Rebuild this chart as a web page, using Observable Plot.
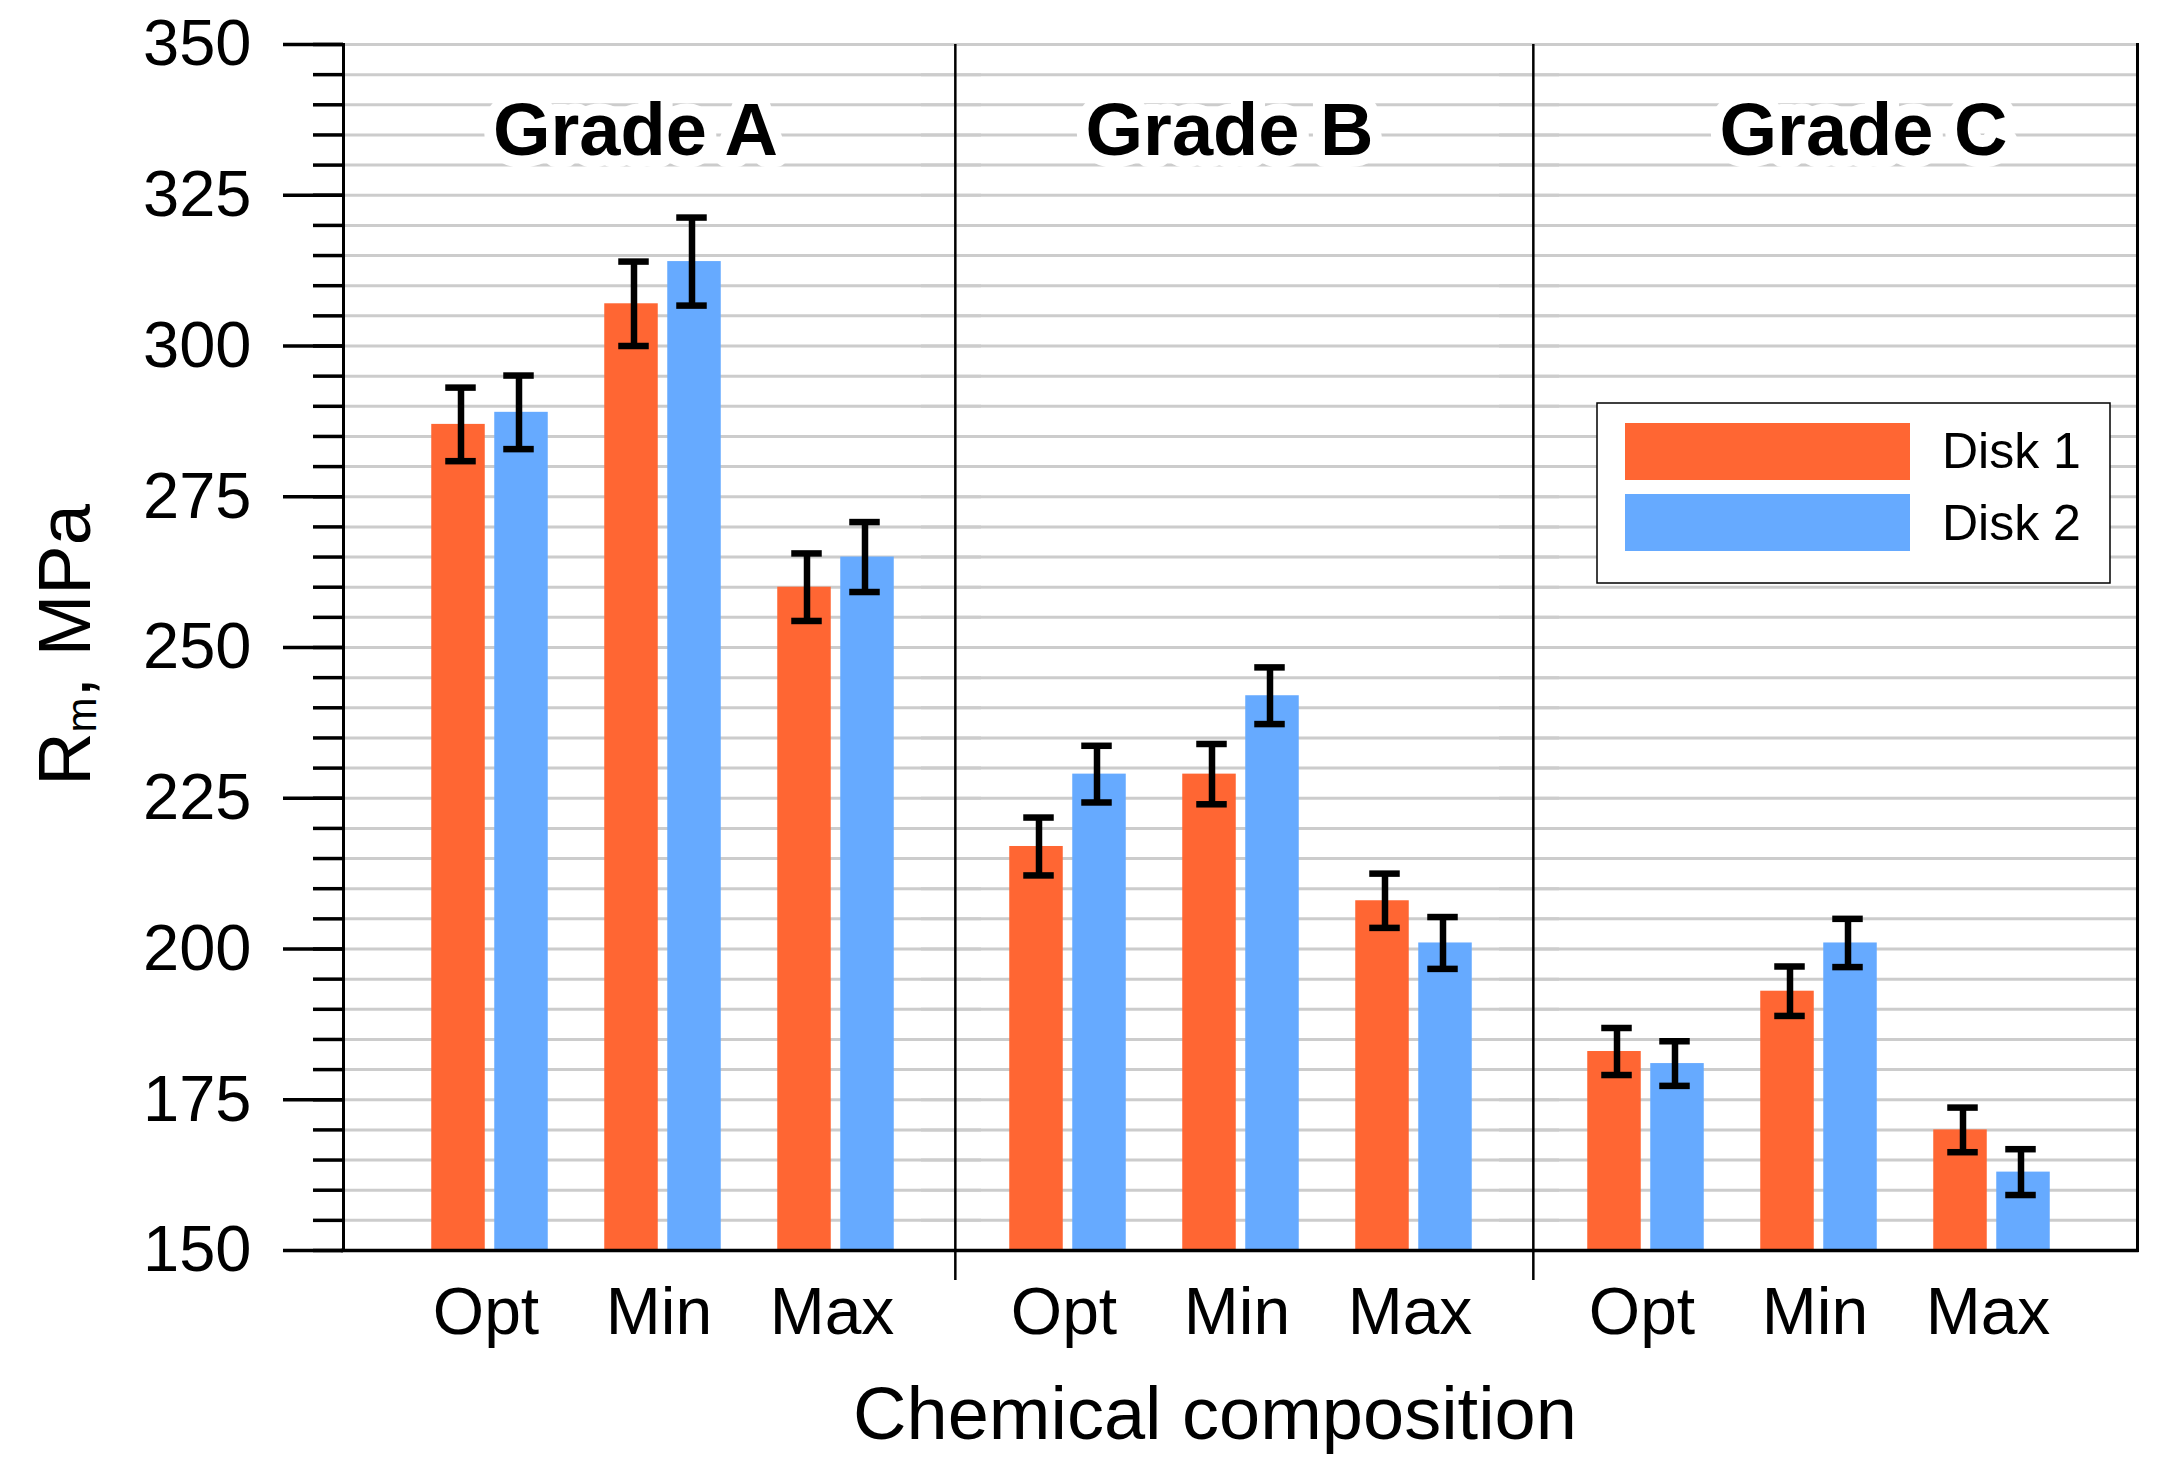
<!DOCTYPE html>
<html><head><meta charset="utf-8">
<script src="https://cdn.jsdelivr.net/npm/d3@7"></script>
<script src="https://cdn.jsdelivr.net/npm/@observablehq/plot@0.6"></script>
<style>html,body{margin:0;padding:0;background:#fff;} svg{display:block;}</style>
</head><body><div id="chart"></div>
<script>
// ---- data ----
const grades = ["Grade A", "Grade B", "Grade C"];
const compositions = ["Opt", "Min", "Max"];
const disks = ["Disk 1", "Disk 2"];
// values in grade order A(Opt,Min,Max), B(...), C(...)
const disk1Rm  = [287, 307, 260, 217, 229, 208, 183, 193, 170];
const disk2Rm  = [289, 314, 265, 229, 242, 201, 181, 201, 163];
const disk1Err = [6.1, 7.0, 5.6, 4.8, 5.0, 4.5, 3.9, 4.1, 3.7];
const disk2Err = [6.1, 7.3, 5.8, 4.7, 4.7, 4.3, 3.7, 4.0, 3.8];
const yMajorTicks = [150, 175, 200, 225, 250, 275, 300, 325, 350];
const yDomain = [150, 350];
const yMinorStep = 5;
const yLabel = ["R", "m", ", MPa"];
const xLabel = "Chemical composition";

// ---- layout / style ----
const W = 2161, H = 1460;
const mL = 342, mR = 24, mT = 44, mB = 210;
const endPad = 30;
const plotW = W - mL - mR;
const groupW = (plotW - 2 * endPad) / 3;
const fxPadOuter = endPad / groupW;
const slot = groupW / (3 + 1 / 3);
const half = slot / 2;
const groupGap = slot / 3;
const barW = 54, barGap = 9;
const errShift = 29, capHalf = 15.5;
const colors = {"Disk 1": "#FF6633", "Disk 2": "#66AAFF"};
const gradeLabelShift = {"Grade A": -27.5, "Grade B": -11.5, "Grade C": 44.5};

const rows = [];
grades.forEach((g, gi) => compositions.forEach((c, ci) => {
  const k = gi * 3 + ci;
  rows.push({grade: g, comp: c, disk: "Disk 1", value: disk1Rm[k], err: disk1Err[k]});
  rows.push({grade: g, comp: c, disk: "Disk 2", value: disk2Rm[k], err: disk2Err[k]});
}));

const minorTicks = d3.range(yDomain[0], yDomain[1] + 1, yMinorStep);

const diskMarks = disks.flatMap((dk, i) => {
  const s = i === 0 ? -1 : 1;
  const data = rows.filter(r => r.disk === dk);
  const barFar = half - barGap / 2 - barW;
  const bl = s < 0 ? barFar : half + barGap / 2;
  const br = s < 0 ? half + barGap / 2 : barFar;
  const cl = s < 0 ? half - errShift - capHalf : half + errShift - capHalf;
  const cr = s < 0 ? half + errShift - capHalf : half - errShift - capHalf;
  return [
    Plot.barY(data, {fx: "grade", x: "comp", y1: yDomain[0], y2: "value", fill: colors[dk], insetLeft: bl, insetRight: br}),
    Plot.ruleX(data, {fx: "grade", x: "comp", y1: d => d.value - d.err, y2: d => d.value + d.err, dx: s * errShift, stroke: "black", strokeWidth: 6.5}),
    Plot.tickY(data, {fx: "grade", x: "comp", y: d => d.value + d.err, insetLeft: cl, insetRight: cr, stroke: "black", strokeWidth: 6.5}),
    Plot.tickY(data, {fx: "grade", x: "comp", y: d => d.value - d.err, insetLeft: cl, insetRight: cr, stroke: "black", strokeWidth: 6.5})
  ];
});

const chart = Plot.plot({
  width: W, height: H,
  marginLeft: mL, marginRight: mR, marginTop: mT, marginBottom: mB,
  fx: {domain: grades, paddingInner: 0, paddingOuter: fxPadOuter, axis: null, label: null},
  x: {domain: compositions, paddingInner: 0, paddingOuter: 1 / 6, label: null},
  y: {domain: yDomain, label: null},
  style: {fontFamily: "'Liberation Sans', Arial, sans-serif", background: "white", overflow: "visible", color: "black"},
  marks: [
    Plot.gridY(minorTicks.filter(t => t > yDomain[0]), {stroke: "#cccccc", strokeOpacity: 1, strokeWidth: 3, insetLeft: -endPad, insetRight: -endPad}),
    ...grades.map(g => Plot.text([g], {fx: d => d, x: () => compositions[1], text: d => d, frameAnchor: "top", lineAnchor: "middle", dy: 87, dx: gradeLabelShift[g], fontSize: 74, fontWeight: "bold", fill: "black", stroke: "white", strokeWidth: 24, strokeLinejoin: "round"})),
    ...diskMarks,
    Plot.ruleX(grades.slice(1), {fx: d => d, x: () => compositions[0], dx: -(half + groupGap / 2) + 3, insetBottom: -30, stroke: "black", strokeWidth: 2.5}),
    // one continuous baseline, drawn in the last facet so it sits on top of everything
    Plot.ruleY([yDomain[0]], {facetAnchor: "right", insetLeft: -(2 * groupW + endPad + 1.5), insetRight: -endPad - 1.5, stroke: "black", strokeWidth: 3.5}),
    Plot.frame({anchor: "left", facetAnchor: "left", dx: -endPad, stroke: "black", strokeWidth: 3}),
    Plot.frame({anchor: "right", facetAnchor: "right", dx: endPad, stroke: "black", strokeWidth: 3}),
    Plot.axisY(yMajorTicks, {anchor: "left", facetAnchor: "left", tickSize: 60, tickPadding: 32, fontSize: 65, strokeWidth: 3.5, dx: -endPad, label: null}),
    Plot.axisY(minorTicks, {anchor: "left", facetAnchor: "left", tickSize: 30, tickFormat: () => "", strokeWidth: 3.5, dx: -endPad, label: null}),
    Plot.axisX({anchor: "bottom", tickSize: 0, tickPadding: 37, fontSize: 66, dx: -4, label: null})
  ]
});

document.getElementById("chart").appendChild(chart);
const svg = d3.select(chart);

// y label with subscript
const yl = svg.append("text")
  .attr("transform", "translate(90,645) rotate(-90)")
  .attr("text-anchor", "middle")
  .attr("font-size", 74)
  .attr("fill", "black");
yl.append("tspan").text(yLabel[0]);
yl.append("tspan").attr("font-size", 42).attr("dy", 6).text(yLabel[1]);
yl.append("tspan").attr("dy", -6).text(yLabel[2]);

// x label
svg.append("text").attr("x", 1215).attr("y", 1439).attr("text-anchor", "middle")
  .attr("font-size", 74).attr("fill", "black").text(xLabel);

// legend inside plot
const lg = svg.append("g").attr("text-anchor", "start");
lg.append("rect").attr("x", 1597).attr("y", 403).attr("width", 513).attr("height", 180)
  .attr("fill", "white").attr("stroke", "black").attr("stroke-width", 1.5);
disks.forEach((d, i) => {
  lg.append("rect").attr("x", 1625).attr("y", 423 + i * 71).attr("width", 285).attr("height", 57).attr("fill", colors[d]);
  lg.append("text").attr("x", 1942).attr("y", 468 + i * 72).attr("font-size", 50).attr("fill", "black").attr("text-anchor", "start").text(d);
});
</script>
</body></html>
